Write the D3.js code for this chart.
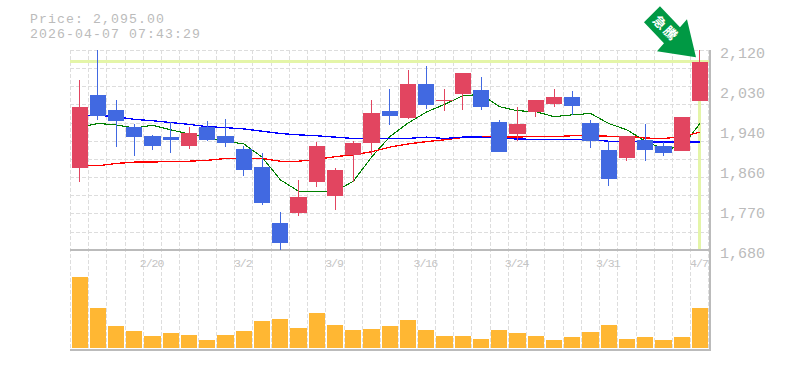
<!DOCTYPE html>
<html>
<head>
<meta charset="utf-8">
<script src="https://cdn.jsdelivr.net/npm/d3@7.9.0/dist/d3.min.js"></script>
<style>
  html, body { margin: 0; padding: 0; background: #fff; }
  svg { display: block; }
  text { font-family: "Liberation Mono", monospace; fill: #bbb; }
</style>
</head>
<body>
<svg id="chart" width="785" height="370"></svg>
<script>
const dates = ['2/16','2/17','2/18','2/19','2/20','2/24','2/25','2/26','2/27','3/2','3/3','3/4','3/5','3/6','3/9','3/10','3/11','3/12','3/13','3/16','3/17','3/18','3/19','3/23','3/24','3/25','3/26','3/27','3/30','3/31','4/1','4/2','4/3','4/6','4/7'];
const dateLabels = ['2/20','3/2','3/9','3/16','3/24','3/31','4/7'];

const open  = [1862,2022,1989,1951,1932,1929,1910,1951,1932,1903,1864,1740,1763,1830,1800,1890,1916,1987,1971,2046,2008,2024,2033,1962,1936,1984,2002,2017,1960,1901,1883,1923,1910,1899,2009];
const close = [1995,1976,1965,1929,1910,1923,1938,1923,1917,1857,1783,1697,1797,1910,1857,1916,1982,1976,2046,2000,2011,2070,1995,1896,1958,2011,2017,1998,1921,1837,1931,1901,1894,1973,2095];
const high  = [2055,2120,2011,1958,1934,1962,1951,1965,1969,1910,1894,1764,1835,1918,1861,1921,2011,2035,2077,2086,2035,2070,2061,1967,1995,2011,2035,2031,1967,1921,1931,1958,1918,1973,2120];
const low   = [1831,1967,1907,1888,1901,1894,1903,1921,1908,1844,1780,1680,1756,1820,1769,1831,1890,1956,1969,1991,1987,1989,1989,1896,1921,1973,1995,1978,1905,1822,1877,1877,1888,1899,2009];

const maShort = [1951,1959,1956,1949,1955,1945,1936,1928,1920,1914,1885,1835,1810,1810,1809,1832,1885,1930,1960,1984,2001,2020,2023,1996,1987,1985,1974,1978,1981,1959,1945,1920,1903,1907,1959];
const maMid   = [1866,1866,1871,1874,1874,1876,1876,1878,1882,1882,1882,1876,1876,1880,1886,1890,1897,1907,1914,1919,1923,1928,1929,1929,1929,1931,1930,1932,1932,1931,1931,1927,1926,1930,1940];
const maLong  = [1977,1977,1974,1968,1965,1961,1957,1952,1950,1947,1942,1937,1934,1932,1929,1926,1926,1926,1926,1929,1926,1929,1929,1926,1925,1924,1924,1924,1923,1920,1920,1918,1918,1918,1918];

const volume = [707,397,217,167,117,147,127,77,127,167,267,287,197,347,227,177,187,217,277,177,117,117,87,177,147,117,77,107,157,227,87,107,77,107,397];

const priceTicks = [2120,2032,1944,1856,1768,1680];
const priceLabels = ['2,120','2,030','1,940','1,860','1,770','1,680'];
const gridPrices = d3.range(1680, 2121, 40);
const currentPrice = 2095;

const plot = { left: 70, right: 710, top: 50.3, bottom: 250.3, volBottom: 348, axisBottom: 350 };

const svg = d3.select('#chart');

const x = d3.scaleBand().domain(dates).range([plot.left + 0.5, plot.right - 0.9]).paddingInner(0.11).paddingOuter(0.055);
const y = d3.scaleLinear().domain([1680, 2120]).range([plot.bottom, plot.top]);
const yVol = d3.scaleLinear().domain([0, 707]).range([plot.volBottom, plot.volBottom - 70.7]);
const cx = (i) => x(dates[i]) + x.bandwidth() / 2;

// header
svg.append('text').attr('x', 30).attr('y', 23).attr('font-size', 13.2).attr('letter-spacing', 1.08).text('Price: 2,095.00');
svg.append('text').attr('x', 30).attr('y', 38).attr('font-size', 13.2).attr('letter-spacing', 1.08).text('2026-04-07 07:43:29');

// grid
const grid = svg.append('g')
  .attr('stroke', '#ddd')
  .attr('stroke-dasharray', '4 2')
  .attr('shape-rendering', 'crispEdges');

grid.selectAll('line.h').data(gridPrices).join('line')
  .attr('class', 'h')
  .attr('x1', plot.left).attr('x2', plot.right)
  .attr('y1', (d) => y(d)).attr('y2', (d) => y(d));

grid.selectAll('line.v').data(dates).join('line')
  .attr('class', 'v')
  .attr('x1', (d) => x(d) - 1).attr('x2', (d) => x(d) - 1)
  .attr('y1', plot.top).attr('y2', plot.axisBottom);

grid.append('line')
  .attr('x1', x(dates[34]) + x.bandwidth() + 0.5).attr('x2', x(dates[34]) + x.bandwidth() + 0.5)
  .attr('y1', plot.top).attr('y2', plot.axisBottom);

// current price marker
const marker = svg.append('g').attr('stroke', '#e4f5a8').attr('stroke-width', 3).attr('shape-rendering', 'crispEdges');
marker.append('line').attr('x1', plot.left).attr('x2', plot.right).attr('y1', y(currentPrice)).attr('y2', y(currentPrice));
marker.append('line').attr('x1', cx(34)).attr('x2', cx(34)).attr('y1', y(currentPrice)).attr('y2', plot.bottom);

// axes frame
const frame = svg.append('g').attr('stroke', '#bbb').attr('shape-rendering', 'crispEdges');
frame.append('line').attr('x1', plot.left).attr('x2', plot.right + 1).attr('y1', plot.bottom).attr('y2', plot.bottom).attr('stroke-width', 2);
frame.append('line').attr('x1', plot.left).attr('x2', plot.right + 1).attr('y1', plot.axisBottom).attr('y2', plot.axisBottom).attr('stroke-width', 2);
frame.append('line').attr('x1', plot.right).attr('x2', plot.right).attr('y1', plot.top).attr('y2', plot.axisBottom + 1).attr('stroke-width', 2);

// moving averages
const lineGen = d3.line().x((d, i) => cx(i)).y((d) => y(d));
[[maShort, '#008000', 1.1], [maMid, '#ff0000', 1.3], [maLong, '#0000ff', 1.3]].forEach(([series, color, w]) => {
  svg.append('path')
    .attr('d', lineGen(series))
    .attr('fill', 'none')
    .attr('stroke', color)
    .attr('stroke-width', w)
    .attr('shape-rendering', 'crispEdges');
});

// candles
const candleColor = (i) => (close[i] >= open[i] ? '#e24560' : '#4169e1');
const candles = svg.append('g').attr('shape-rendering', 'crispEdges');

candles.selectAll('line').data(dates).join('line')
  .attr('x1', (d, i) => cx(i)).attr('x2', (d, i) => cx(i))
  .attr('y1', (d, i) => y(high[i])).attr('y2', (d, i) => y(low[i]))
  .attr('stroke', (d, i) => candleColor(i))
  .attr('stroke-width', 1);

candles.selectAll('rect').data(dates).join('rect')
  .attr('x', (d) => x(d))
  .attr('width', x.bandwidth())
  .attr('y', (d, i) => y(Math.max(open[i], close[i])))
  .attr('height', (d, i) => Math.max(1, Math.abs(y(open[i]) - y(close[i]))))
  .attr('fill', (d, i) => candleColor(i));

// volume
svg.append('g').attr('shape-rendering', 'crispEdges')
  .selectAll('rect').data(volume).join('rect')
  .attr('x', (d, i) => x(dates[i]))
  .attr('width', x.bandwidth())
  .attr('y', (d) => yVol(d))
  .attr('height', (d) => plot.volBottom - yVol(d))
  .attr('fill', '#ffb733');

// labels
svg.selectAll('text.price').data(priceTicks).join('text')
  .attr('class', 'price')
  .attr('x', 720)
  .attr('y', (d) => y(d) + 8)
  .attr('font-size', 15)
  .text((d, i) => priceLabels[i]);

svg.selectAll('text.date').data(dateLabels).join('text')
  .attr('class', 'date')
  .attr('x', (d) => x(d) + x.bandwidth() / 2 - 1)
  .attr('y', 266.5)
  .attr('text-anchor', 'middle')
  .attr('font-size', 11.5)
  .attr('letter-spacing', -1)
  .style('fill', '#c4c4c4')
  .text((d) => d);

// arrow pointing at the last candle
const arrow = svg.append('g').attr('transform', `translate(${cx(34)},${y(2120)})`);
arrow.append('path')
  .attr('d', 'M-4,7 L-43,1 L-36,-7 L-56,-28 L-40,-44 L-20,-23 L-13,-31 Z')
  .attr('fill', '#009944');
arrow.append('text')
  .attr('transform', 'translate(-34,-22) rotate(45)')
  .attr('text-anchor', 'middle')
  .attr('dy', 5)
  .attr('font-size', 13)
  .attr('letter-spacing', 2)
  .attr('font-weight', 'bold')
  .style('font-family', '"Noto Sans CJK JP"')
  .style('fill', '#fff')
  .text('急騰');
</script>
</body>
</html>
